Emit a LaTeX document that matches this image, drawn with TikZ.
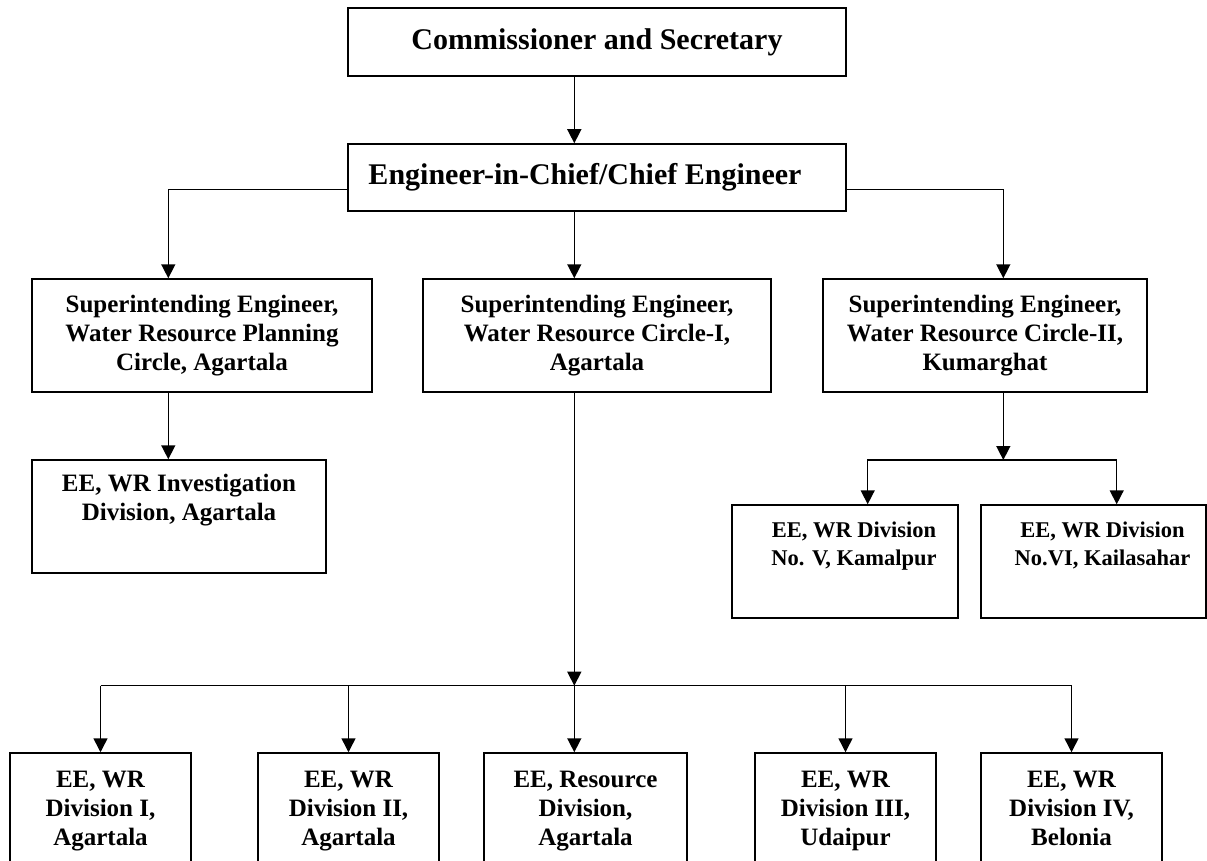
\documentclass[tikz,border=0pt]{standalone}
\usepackage{fontspec}
\setmainfont{Liberation Serif}
\usepackage{tikz}
\usetikzlibrary{arrows.meta,positioning,calc}
\tikzset{
  box/.style={draw, line width=1.5pt, inner sep=0pt, align=center, font=\bfseries},
  arr/.style={line width=1.5pt, -{Triangle[length=14pt,width=14pt]}},
  bigtxt/.style={font=\bfseries\fontsize{30}{34}\selectfont},
  midtxt/.style={font=\bfseries\fontsize{25}{29}\selectfont},
  smalltxt/.style={font=\bfseries\fontsize{22.5}{27.5}\selectfont}
}

\begin{document}
\begin{tikzpicture}[x=1pt, y=-1pt]
    \useasboundingbox (0,0) rectangle (1207,861);
    \clip (0,0) rectangle (1207,861);
    % Top of the chart
    \node[box, bigtxt, minimum width=498pt, minimum height=68pt] (comm) at (597,42) {Commissioner and Secretary};
    \node[box, bigtxt, minimum width=498pt, minimum height=67pt] (eic) at (597,177.5) {Engineer-in-Chief/Chief Engineer\hspace*{24pt}};
    % Circle offices
    \node[box, midtxt, minimum width=340pt, minimum height=113pt] (se1) at (202,335.5) {Superintending Engineer,\\Water Resource Planning\\Circle, Agartala};
    \node[box, midtxt, minimum width=348pt, minimum height=113pt] (se2) at (597,335.5) {Superintending Engineer,\\Water Resource Circle-I,\\Agartala};
    \node[box, midtxt, minimum width=324pt, minimum height=113pt] (se3) at (985,335.5) {Superintending Engineer,\\Water Resource Circle-II,\\Kumarghat};
    % Divisions under the circles
    \node[box, midtxt, minimum width=294pt, minimum height=113pt] (inv) at (179,516.5) {EE, WR Investigation\\Division, Agartala\\\strut};
    \node[box, smalltxt, minimum width=226pt, minimum height=113pt] (dv5) at (845,561.5) {\hspace*{18pt}EE, WR Division\\\hspace*{18pt}No. V, Kamalpur\\\strut};
    \node[box, smalltxt, minimum width=225pt, minimum height=113pt] (dv6) at (1093.5,561.5) {\hspace*{18pt}EE, WR Division\\\hspace*{18pt}No.VI, Kailasahar\\\strut};
    % Bottom row
    \node[box, midtxt, minimum width=181pt, minimum height=115pt] (b1) at (100.5,810.5) {\strut EE, WR\\Division I,\\Agartala\strut};
    \node[box, midtxt, minimum width=181pt, minimum height=115pt] (b2) at (348.5,810.5) {\strut EE, WR\\Division II,\\Agartala\strut};
    \node[box, midtxt, minimum width=203pt, minimum height=115pt] (b3) at (585.5,810.5) {\strut EE, Resource\\Division,\\Agartala\strut};
    \node[box, midtxt, minimum width=181pt, minimum height=115pt] (b4) at (845.5,810.5) {\strut EE, WR\\Division III,\\Udaipur\strut};
    \node[box, midtxt, minimum width=181pt, minimum height=115pt] (b5) at (1071.5,810.5) {\strut EE, WR\\Division IV,\\Belonia\strut};
    % Junction points
    \coordinate (mid) at (574.3,685.7);
    \coordinate (eicL) at (168.3,189.3);
    \coordinate (eicR) at (1003.3,189.3);
    \coordinate (rj) at (1003.3,460);
    \coordinate (rjL) at (867.7,460);
    \coordinate (rjR) at (1116.7,460);
    % Connectors
    \draw[arr] (comm.south -| mid) -- (eic.north -| mid);
    \draw[arr] (eic.south -| mid) -- (se2.north -| mid);
    \draw[arr] (eic.west |- eicL) -| (se1.north -| eicL);
    \draw[arr] (eic.east |- eicR) -| (se3.north -| eicR);
    \draw[arr] (se1.south -| eicL) -- (inv.north -| eicL);
    \draw[arr] (se3.south -| rj) -- (rj);
    \draw[arr] (rj) -| (dv5.north -| rjL);
    \draw[arr] (rj) -| (dv6.north -| rjR);
    \draw[arr] (se2.south -| mid) -- (mid);
    \draw[line width=1.5pt] (b1.north |- mid) -- (b5.north |- mid);
    \draw[arr] (mid) -- (b3.north -| mid);
    \foreach \b in {b1,b2,b4,b5} {
      \draw[arr] (\b.north |- mid) -- (\b.north);
    }
  \end{tikzpicture}
\end{document}
